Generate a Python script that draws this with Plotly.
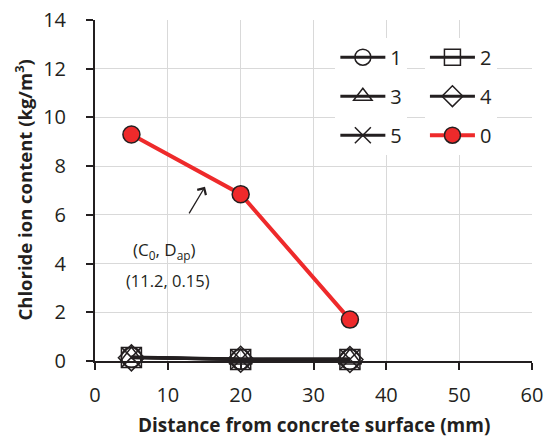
import plotly.graph_objects as go

depth = [5, 20, 35]
series_names = ["1", "2", "3", "4", "5"]
series_vals = {
    "1": [0.15, 0.07, 0.07],
    "2": [0.14, 0.06, 0.06],
    "3": [0.16, 0.08, 0.08],
    "4": [0.13, 0.07, 0.06],
    "5": [0.15, 0.06, 0.07],
}
series_symbols = {"1": "circle-open", "2": "square-open", "3": "triangle-up-open",
                  "4": "diamond-open", "5": "x-thin-open"}
ref_name = "0"
ref_vals = [9.3, 6.85, 1.7]
x_title = "<b>Distance from concrete surface (mm)</b>"
y_title = "<b>Chloride ion content (kg/m<sup>3</sup>)</b>"

FONT = "Open Sans"
INK = "#231F20"
fig = go.Figure()

legend_of = {"1": "legend", "3": "legend", "5": "legend",
             "2": "legend2", "4": "legend2"}
for n in series_names:
    fig.add_trace(go.Scatter(
        x=depth, y=series_vals[n], name=n, mode="lines+markers",
        line=dict(color=INK, width=3),
        marker=dict(symbol=series_symbols[n], size=20, color=INK,
                    line=dict(color=INK, width=1.5)),
        cliponaxis=False, legend=legend_of[n], legendgroup=n))

fig.add_trace(go.Scatter(
    x=depth, y=ref_vals, name=ref_name, mode="lines+markers",
    line=dict(color="#EE2A2B", width=4),
    marker=dict(symbol="circle", size=17, color="#EE2A2B",
                line=dict(color=INK, width=1.5)),
    cliponaxis=False, legend="legend2", legendgroup=ref_name))

axis_common = dict(showgrid=True, gridcolor="#D9D9D9", gridwidth=1,
                   showline=True, linecolor=INK, linewidth=2,
                   ticks="outside", ticklen=7, tickcolor=INK, tickwidth=1.5,
                   tickfont=dict(family=FONT, size=20, color=INK),
                   zeroline=False, automargin=False)

fig.update_xaxes(range=[0, 60], dtick=10, **axis_common, ticklabelstandoff=8)
fig.update_yaxes(range=[0, 14], dtick=2, **axis_common, ticklabelstandoff=16)

fig.add_annotation(text=x_title, xref="paper", yref="paper", x=0.5, y=0,
                   yshift=-64, showarrow=False, xanchor="center", yanchor="middle",
                   font=dict(family=FONT, size=19, color=INK))
fig.add_annotation(text=y_title, xref="paper", yref="paper", x=0, y=0.5,
                   xshift=-71, showarrow=False, textangle=-90,
                   xanchor="center", yanchor="middle",
                   font=dict(family=FONT, size=18.5, color=INK))

leg_common = dict(bgcolor="white", font=dict(family=FONT, size=20, color=INK),
                  tracegroupgap=10, itemwidth=45, yanchor="top", xanchor="left",
                  traceorder="grouped")
fig.update_layout(
    legend=dict(x=0.55, y=0.948, **leg_common),
    legend2=dict(x=0.755, y=0.948, **leg_common),
)

fig.add_annotation(x=15.1, y=7.15, ax=12.8, ay=6.0, axref="x", ayref="y",
                   xref="x", yref="y", text="", showarrow=True,
                   arrowhead=4, arrowsize=1.5, arrowwidth=1.3, arrowcolor=INK)
fig.add_annotation(x=9.6, y=4.55, xref="x", yref="y",
                   text="(C<sub>0</sub>, D<sub>ap</sub>)", showarrow=False,
                   font=dict(family=FONT, size=17, color=INK))
fig.add_annotation(x=10, y=3.3, xref="x", yref="y",
                   text="(11.2, 0.15)", showarrow=False,
                   font=dict(family=FONT, size=16.5, color=INK))

fig.update_layout(
    width=553, height=437,
    margin=dict(l=95, r=21, t=20, b=76),
    plot_bgcolor="white", paper_bgcolor="white",
    showlegend=True,
)

fig.write_html("out.html")
